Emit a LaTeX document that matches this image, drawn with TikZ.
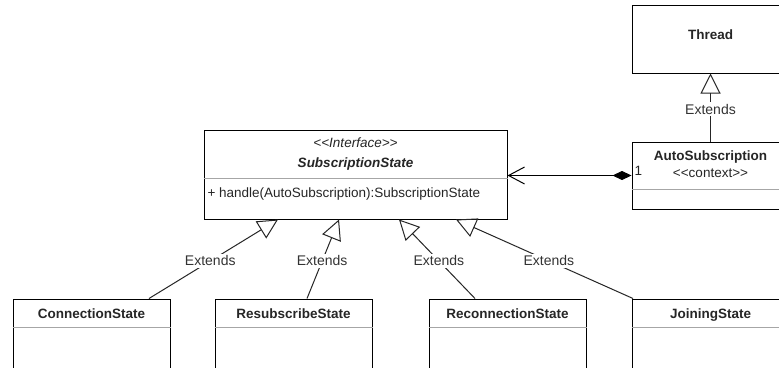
\documentclass[tikz,border=0pt]{standalone}
\usepackage{fontspec}
\setmainfont{Liberation Sans}
\usetikzlibrary{arrows.meta}
\newcommand{\bfnt}{\fontsize{13.5}{16}\selectfont\bfseries}
\newcommand{\rgfnt}{\fontsize{13.5}{16}\selectfont}
\newcommand{\exfnt}{\fontsize{14}{16}\selectfont}
\begin{document}
\begin{tikzpicture}[x=1pt,y=-1pt,line width=1pt,
  box/.style={draw=black,fill=white,inner sep=0pt,minimum width=157pt,minimum height=#1},
  sep/.style={draw=black!35,line width=0.9pt},
  lbl/.style={anchor=base,inner sep=0pt,text=black!85},
  gen/.style={draw=black!85,line width=1pt,-{Triangle[open,length=20pt,width=20pt,line width=1pt]}},
  ext/.style={font=\exfnt,fill=white,inner sep=1.5pt,text=black!80,pos=0.475}]
\useasboundingbox (0,0) rectangle (779,367);
\clip (0,0) rectangle (779,367);
\fill[white] (0,0) rectangle (779,367);
% boxes
\node[box=68pt] (thread) at (710.5,39) {};
\node[box=67pt] (auto) at (710.5,175.5) {};
\node[box=89pt,minimum width=303pt] (subs) at (355.5,174.5) {};
\node[box=80pt] (conn) at (91.5,339) {};
\node[box=80pt] (resub) at (293.5,339) {};
\node[box=80pt] (recon) at (507.5,339) {};
\node[box=80pt] (join) at (710.5,339) {};
% separators
\draw[sep] ([yshift=-13.5pt]auto.west) coordinate (a1) -- (a1 -| auto.east);
\draw[sep] ([yshift=-3.5pt]subs.west) coordinate (s1) -- (s1 -| subs.east);
\foreach \n in {conn,resub,recon,join}{
  \draw[sep] ([yshift=12pt]\n.west) coordinate (c1) -- (c1 -| \n.east);
}
% texts
\node[lbl,font=\bfnt] (tthread) at (710.5,39) {Thread};
\node[lbl,font=\bfnt] (tauto) at (710.5,160) {AutoSubscription};
\node[lbl,font=\rgfnt] (tctx) at (710.5,177) {{<}{<}context{>}{>}};
\node[lbl,font=\rgfnt,anchor=base west] (tone) at (634,175) {1};
\node[lbl,font=\rgfnt\itshape] (tintf) at (355.5,147) {{<}{<}Interface{>}{>}};
\node[lbl,font=\bfnt\itshape] (tsubs) at (355.5,167) {SubscriptionState};
\node[lbl,font=\rgfnt,anchor=base west] (thandle) at (207,197) {+ handle(AutoSubscription):SubscriptionState};
\node[lbl,font=\bfnt] (tconn) at (91.5,318) {ConnectionState};
\node[lbl,font=\bfnt] (tresub) at (293.5,318) {ResubscribeState};
\node[lbl,font=\bfnt] (trecon) at (507.5,318) {ReconnectionState};
\node[lbl,font=\bfnt] (tjoin) at (710.5,318) {JoiningState};
% aggregation
\draw[draw=black,line width=1pt,
  {Diamond[length=19pt,width=9pt,fill=black]}-{Straight Barb[length=16pt,width=17pt,line width=1pt]}]
  (auto.west) -- (subs.east |- auto.west);
% generalizations
\draw[gen] (auto.north) -- node[ext,pos=0.478] (e0) {Extends} (thread.south);
\draw[gen] ([xshift=57.5pt]conn.north) -- node[ext] (e1) {Extends} ([xshift=-77.5pt]subs.south);
\draw[gen] ([xshift=13.5pt]resub.north) -- node[ext] (e2) {Extends} ([xshift=-16.5pt]subs.south);
\draw[gen] ([xshift=-32.5pt]recon.north) -- node[ext] (e3) {Extends} ([xshift=43.5pt]subs.south);
\draw[gen] ([xshift=-77.5pt]join.north) -- node[ext] (e4) {Extends} ([xshift=100.5pt]subs.south);
\end{tikzpicture}
\end{document}
